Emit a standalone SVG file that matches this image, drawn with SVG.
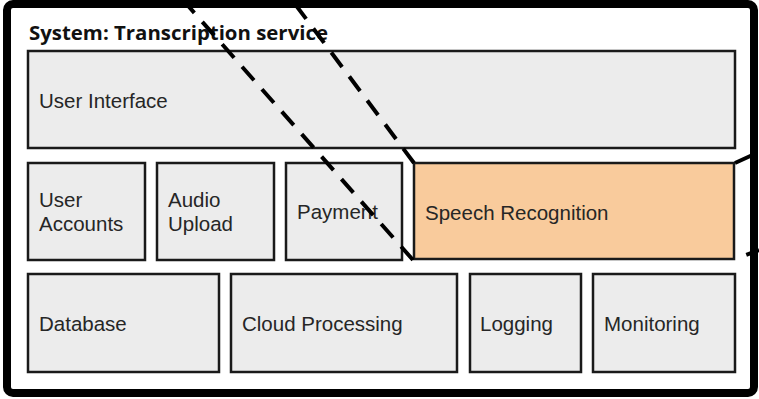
<svg xmlns="http://www.w3.org/2000/svg" width="759" height="399" viewBox="0 0 759 399">
<style>
.box{fill:#ececec;stroke:#1a1a1a;stroke-width:2.5}
.hl{fill:#f9cb9c;stroke:#1a1a1a;stroke-width:2.5}
.lbl{font-family:"Liberation Sans",Arial,sans-serif;font-size:20.5px;fill:#262626}
.title{font-family:"Open Sans","DejaVu Sans",sans-serif;font-weight:bold;font-size:20.4px;fill:#111}
.dash{fill:none;stroke:#000;stroke-width:4;stroke-dasharray:18 12}
</style>
<rect x="0" y="0" width="759" height="399" fill="#fff"/>
<rect id="frame" x="7" y="4" width="747" height="389" rx="6" fill="#fff" stroke="#000" stroke-width="8"/>
<text class="title" x="29" y="40">System: Transcription service</text>
<g id="user-interface"><rect class="box" x="28" y="51" width="707" height="97"/><text class="lbl" x="39" y="108">User Interface</text></g>
<g id="user-accounts"><rect class="box" x="28" y="163" width="117" height="97"/><text class="lbl" x="39" y="207">User</text><text class="lbl" x="39" y="231">Accounts</text></g>
<g id="audio-upload"><rect class="box" x="157" y="163" width="117" height="97"/><text class="lbl" x="168" y="207">Audio</text><text class="lbl" x="168" y="231">Upload</text></g>
<g id="payment"><rect class="box" x="286" y="163" width="116" height="97"/><text class="lbl" x="297" y="219">Payment</text></g>
<g id="speech-recognition"><rect class="hl" x="414" y="163" width="320" height="96"/><text class="lbl" x="425" y="220">Speech Recognition</text></g>
<g id="database"><rect class="box" x="28" y="274" width="191" height="98"/><text class="lbl" x="39" y="331">Database</text></g>
<g id="cloud-processing"><rect class="box" x="231" y="274" width="226" height="98"/><text class="lbl" x="242" y="331">Cloud Processing</text></g>
<g id="logging"><rect class="box" x="470" y="274" width="111" height="98"/><text class="lbl" x="480" y="331">Logging</text></g>
<g id="monitoring"><rect class="box" x="593" y="274" width="142" height="98"/><text class="lbl" x="604" y="331">Monitoring</text></g>
<g id="connectors">
<line class="dash" x1="413" y1="260" x2="183" y2="0"/>
<line class="dash" x1="414" y1="163" x2="292" y2="0"/>
<line class="dash" x1="735" y1="163" x2="759" y2="152"/>
<line class="dash" x1="735" y1="259" x2="759" y2="250" stroke-dasharray="4 10" stroke-dashoffset="-12"/>
</g>
</svg>
